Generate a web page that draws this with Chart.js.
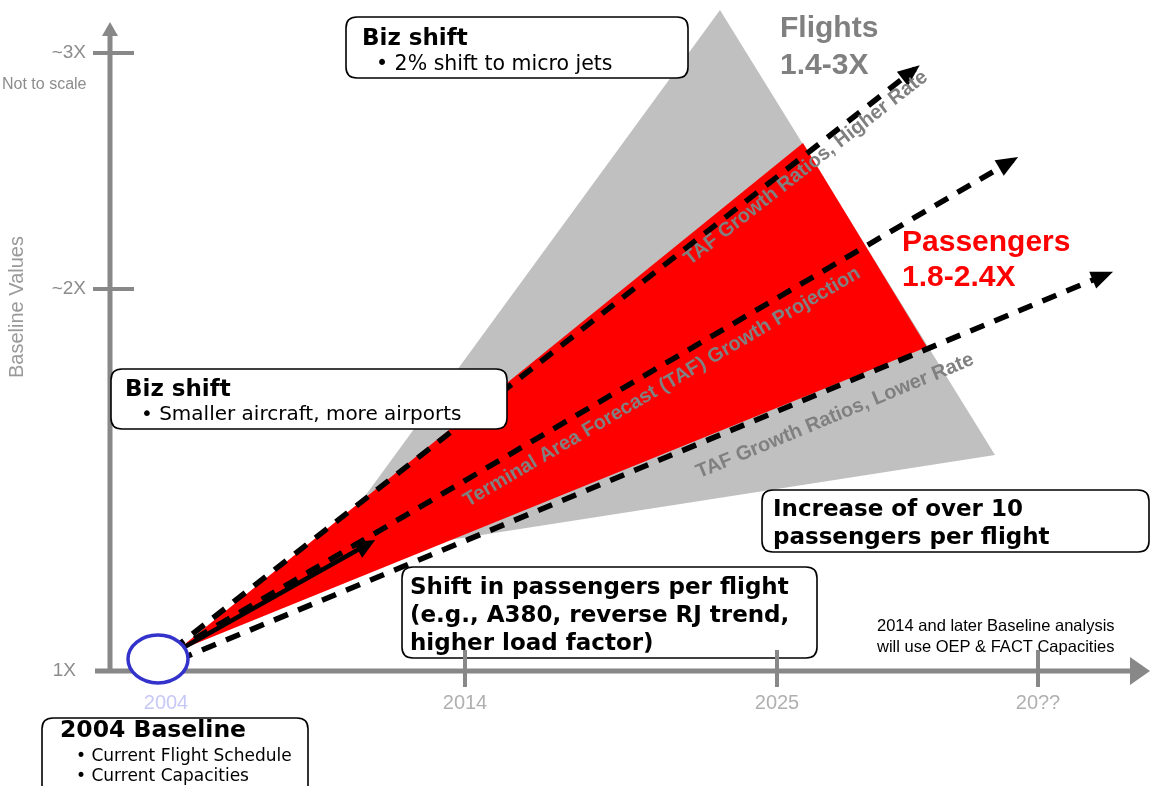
<!DOCTYPE html>
<html>
<head>
<meta charset="utf-8">
<title>Baseline growth – flights and passengers</title>
<script src="https://cdn.jsdelivr.net/npm/chart.js@4.4.1/dist/chart.umd.min.js"></script>
<style>
  html, body { margin: 0; padding: 0; background: #fff; }
  #wrap { width: 1150px; height: 786px; }
</style>
</head>
<body>
<div id="wrap"><canvas id="growthChart" width="1150" height="786"></canvas></div>
<script>
// Diagram units: x to the right, y up, 1 unit = 10 px of the slide.
// The original says "Not to scale", so these are layout units, not years / multiples.

// flights band (grey) and passengers band (red)
var flightsX = [33, 72, 99.5, 43];
var flightsY = [24.2, 77.6, 33.1, 24.3];
var passengersX = [17.5, 80.3, 92.7];
var passengersY = [13.4, 64.3, 43.9];

// dashed growth rays: higher rate, TAF projection, lower rate
var rayLabels = ['TAF Growth Ratios, Higher Rate', 'Terminal Area Forecast (TAF) Growth Projection', 'TAF Growth Ratios, Lower Rate'];
var rayStartX = [17.2, 17.2, 17.8];
var rayStartY = [13.6, 13.4, 12.6];
var rayEndX = [91.5, 101.3, 110.75];
var rayEndY = [71.7, 62.6, 51.2];

// solid arrow: shift in passengers per flight
var paxShiftX = [17.2, 37.0];
var paxShiftY = [13.2, 24.3];

// axes
var axisOriginX = 11.0;
var axisOriginY = 11.5;
var valueAxisTop = 76.4;
var timeAxisRight = 115;
var valueTicks = [11.5, 49.7, 73.3];
var valueTickLabels = ['1X', '~2X', '~3X'];
var yearTicks = [16.6, 46.5, 77.7, 103.8];
var yearTickLabels = ['2004', '2014', '2025', '20??'];

// 2004 baseline marker (ellipse)
var baselineCenter = [15.8, 12.7];
var baselineRadius = [3.0, 2.4];

// callout texts
var bizShiftTop = ['Biz shift', '\u2022 2% shift to micro jets'];
var bizShiftMid = ['Biz shift', '\u2022 Smaller aircraft, more airports'];
var paxShiftText = ['Shift in passengers per flight', '(e.g., A380, reverse RJ trend,', 'higher load factor)'];
var increaseText = ['Increase of over 10', 'passengers per flight'];
var baselineText = ['2004 Baseline', '\u2022 Current Flight Schedule', '\u2022 Current Capacities'];
var noteText = ['2014 and later Baseline analysis', 'will use OEP & FACT Capacities'];
var flightsText = ['Flights', '1.4-3X'];
var passengersText = ['Passengers', '1.8-2.4X'];

function zip(xs, ys) {
    return xs.map(function(v, i) { return { x: v, y: ys[i] }; });
}

var BOX_FONT = '"DejaVu Sans", Verdana, sans-serif';
var ARIAL = '"Liberation Sans", Arial, sans-serif';

function arrowHead(c, x0, y0, x1, y1, len, half, over, color) {
    var a = Math.atan2(y1 - y0, x1 - x0);
    c.save();
    c.translate(x1, y1);
    c.rotate(a);
    c.beginPath();
    c.moveTo(over, 0);
    c.lineTo(over - len, -half);
    c.lineTo(over - len, half);
    c.closePath();
    c.fillStyle = color;
    c.fill();
    c.restore();
}

function roundBox(c, x0, y0, x1, y1, r) {
    c.beginPath();
    c.moveTo(x0 + r, y0);
    c.lineTo(x1 - r, y0);
    c.quadraticCurveTo(x1, y0, x1, y0 + r);
    c.lineTo(x1, y1 - r);
    c.quadraticCurveTo(x1, y1, x1 - r, y1);
    c.lineTo(x0 + r, y1);
    c.quadraticCurveTo(x0, y1, x0, y1 - r);
    c.lineTo(x0, y0 + r);
    c.quadraticCurveTo(x0, y0, x0 + r, y0);
    c.closePath();
    c.fillStyle = '#fff';
    c.fill();
    c.lineWidth = 1.6;
    c.strokeStyle = '#000';
    c.stroke();
}

// callout layout (diagram units): box [x0, x1, yTop, yBottom], text rows [x, y, font]
var callouts = [
    { box: [34.6, 68.8, 76.9, 70.8], text: bizShiftTop,
      rows: [[36.2, 74.7, 'bold 23px'], [37.6, 72.1, '20.5px']] },
    { box: [11.1, 50.7, 41.7, 35.7], text: bizShiftMid,
      rows: [[12.5, 39.6, 'bold 23px'], [14.1, 37.1, '20px']] },
    { box: [40.2, 81.7, 21.9, 12.8], text: paxShiftText,
      rows: [[41.0, 19.8, 'bold 23px'], [41.0, 17.0, 'bold 23px'], [41.0, 14.2, 'bold 23px']] },
    { box: [76.2, 114.9, 29.6, 23.4], text: increaseText,
      rows: [[77.3, 27.6, 'bold 23px'], [77.3, 24.8, 'bold 23px']] },
    { box: [4.2, 30.8, 6.8, -1.0], text: baselineText,
      rows: [[6.0, 5.5, 'bold 23.5px'], [7.6, 2.9, '17px'], [7.6, 0.9, '17px']] }
];
var rayLabelAt = [[80.6, 61.8], [66.2, 39.9], [83.5, 37.0]];

var drawDiagram = {
    id: 'drawDiagram',
    afterDatasetsDraw: function(chart) {
        var c = chart.ctx;
        var sx = chart.scales.x, sy = chart.scales.y;
        function X(v) { return sx.getPixelForValue(v); }
        function Y(v) { return sy.getPixelForValue(v); }
        function text(str, x, y, font, color, align) {
            c.font = font;
            c.fillStyle = color;
            c.textAlign = align || 'left';
            c.textBaseline = 'middle';
            c.fillText(str, X(x), Y(y));
        }

        c.save();

        // arrow heads at the end of each ray
        chart.data.datasets.forEach(function(ds, i) {
            if (!ds.arrowHead) return;
            var pts = chart.getDatasetMeta(i).data;
            var p0 = pts[pts.length - 2], p1 = pts[pts.length - 1];
            arrowHead(c, p0.x, p0.y, p1.x, p1.y, ds.arrowHead[0], ds.arrowHead[1], 6, '#000');
        });

        // labels along the rays
        rayLabels.forEach(function(lbl, i) {
            var a = Math.atan2(Y(rayEndY[i]) - Y(rayStartY[i]), X(rayEndX[i]) - X(rayStartX[i]));
            c.save();
            c.translate(X(rayLabelAt[i][0]), Y(rayLabelAt[i][1]));
            c.rotate(a);
            c.font = 'bold 20px ' + ARIAL;
            c.fillStyle = '#808080';
            c.textAlign = 'center';
            c.textBaseline = 'middle';
            c.fillText(lbl, 0, 0);
            c.restore();
        });

        // value axis (under the callouts)
        c.strokeStyle = '#888888';
        c.lineWidth = 5;
        c.beginPath();
        c.moveTo(X(axisOriginX), Y(axisOriginY) + 2);
        c.lineTo(X(axisOriginX), Y(valueAxisTop) + 8);
        c.stroke();
        arrowHead(c, X(axisOriginX), Y(axisOriginY), X(axisOriginX), Y(valueAxisTop), 14, 8, 0, '#888888');
        c.lineWidth = 4;
        valueTicks.slice(1).forEach(function(v) {
            c.beginPath();
            c.moveTo(X(9.3), Y(v));
            c.lineTo(X(13.4), Y(v));
            c.stroke();
        });

        // callout boxes
        callouts.forEach(function(co) {
            roundBox(c, X(co.box[0]), Y(co.box[2]), X(co.box[1]), Y(co.box[3]), 11);
            co.rows.forEach(function(r, i) {
                text(co.text[i], r[0], r[1], r[2] + ' ' + BOX_FONT, '#000');
            });
        });

        // time axis (drawn over the callouts, like the original)
        c.strokeStyle = '#888888';
        c.lineWidth = 5;
        c.beginPath();
        c.moveTo(X(9.5), Y(axisOriginY));
        c.lineTo(X(timeAxisRight) - 12, Y(axisOriginY));
        c.stroke();
        arrowHead(c, X(axisOriginX), Y(axisOriginY), X(timeAxisRight), Y(axisOriginY), 20, 14, 0, '#888888');
        c.lineWidth = 4;
        yearTicks.slice(1).forEach(function(v) {
            c.beginPath();
            c.moveTo(X(v), Y(13.6));
            c.lineTo(X(v), Y(9.9));
            c.stroke();
        });

        // 2004 baseline marker
        var ex = X(baselineCenter[0]), ey = Y(baselineCenter[1]);
        var rx = Math.abs(X(baselineCenter[0] + baselineRadius[0]) - ex);
        var ry = Math.abs(Y(baselineCenter[1] + baselineRadius[1]) - ey);
        c.beginPath();
        c.ellipse(ex, ey, rx, ry, 0, 0, Math.PI * 2);
        c.fillStyle = '#fff';
        c.fill();
        c.lineWidth = 3.5;
        c.strokeStyle = '#3333cc';
        c.stroke();

        // tick labels
        valueTicks.forEach(function(v, i) {
            text(valueTickLabels[i], i === 0 ? 7.6 : 8.6, v, '19px ' + ARIAL, '#8c8c8c', 'right');
        });
        yearTicks.forEach(function(v, i) {
            text(yearTickLabels[i], v, 8.3, '20px ' + ARIAL, i === 0 ? '#c8c8f8' : '#b0b0b0', 'center');
        });
        text('Not to scale', 0.2, 70.1, '16px ' + ARIAL, '#8c8c8c');

        c.save();
        c.translate(X(1.7), Y(47.9));
        c.rotate(-Math.PI / 2);
        c.font = '20px ' + ARIAL;
        c.fillStyle = '#999999';
        c.textAlign = 'center';
        c.textBaseline = 'middle';
        c.fillText('Baseline Values', 0, 0);
        c.restore();

        // big band labels
        text(flightsText[0], 78.0, 75.7, 'bold 30px ' + ARIAL, '#808080');
        text(flightsText[1], 78.0, 72.0, 'bold 30px ' + ARIAL, '#808080');
        text(passengersText[0], 90.2, 54.3, 'bold 30px ' + ARIAL, '#ff0000');
        text(passengersText[1], 90.2, 50.8, 'bold 30px ' + ARIAL, '#ff0000');

        // note on later baselines
        text(noteText[0], 87.7, 16.0, '16.5px ' + ARIAL, '#000');
        text(noteText[1], 87.7, 13.9, '16.5px ' + ARIAL, '#000');

        c.restore();
    }
};

var rayDatasets = rayLabels.map(function(lbl, i) {
    return {
        label: lbl,
        data: zip([rayStartX[i], rayEndX[i]], [rayStartY[i], rayEndY[i]]),
        showLine: true,
        borderColor: '#000',
        borderWidth: 5.5,
        borderDash: [15, 11],
        pointRadius: 0,
        fill: false,
        arrowHead: [22, 9],
        order: 2
    };
});

var ctx = document.getElementById('growthChart');
var growthChart = new Chart(ctx, {
    type: 'scatter',
    data: {
        datasets: [{
            label: 'Flights 1.4-3X',
            data: zip(flightsX.concat(flightsX[0]), flightsY.concat(flightsY[0])),
            showLine: true,
            borderWidth: 0,
            borderColor: 'rgba(0,0,0,0)',
            backgroundColor: '#c0c0c0',
            fill: 'shape',
            pointRadius: 0,
            order: 4
        }, {
            label: 'Passengers 1.8-2.4X',
            data: zip(passengersX.concat(passengersX[0]), passengersY.concat(passengersY[0])),
            showLine: true,
            borderWidth: 0,
            borderColor: 'rgba(0,0,0,0)',
            backgroundColor: '#ff0000',
            fill: 'shape',
            pointRadius: 0,
            order: 3
        }].concat(rayDatasets).concat([{
            label: 'Shift in passengers per flight',
            data: zip(paxShiftX, paxShiftY),
            showLine: true,
            borderColor: '#000',
            borderWidth: 4.5,
            pointRadius: 0,
            fill: false,
            arrowHead: [20, 9],
            order: 1
        }])
    },
    options: {
        responsive: false,
        animation: false,
        layout: { padding: 0 },
        plugins: {
            legend: { display: false },
            tooltip: { enabled: false }
        },
        scales: {
            x: { type: 'linear', min: 0, max: 115, display: false },
            y: { type: 'linear', min: 0, max: 78.6, display: false }
        }
    },
    plugins: [drawDiagram]
});
</script>
</body>
</html>
